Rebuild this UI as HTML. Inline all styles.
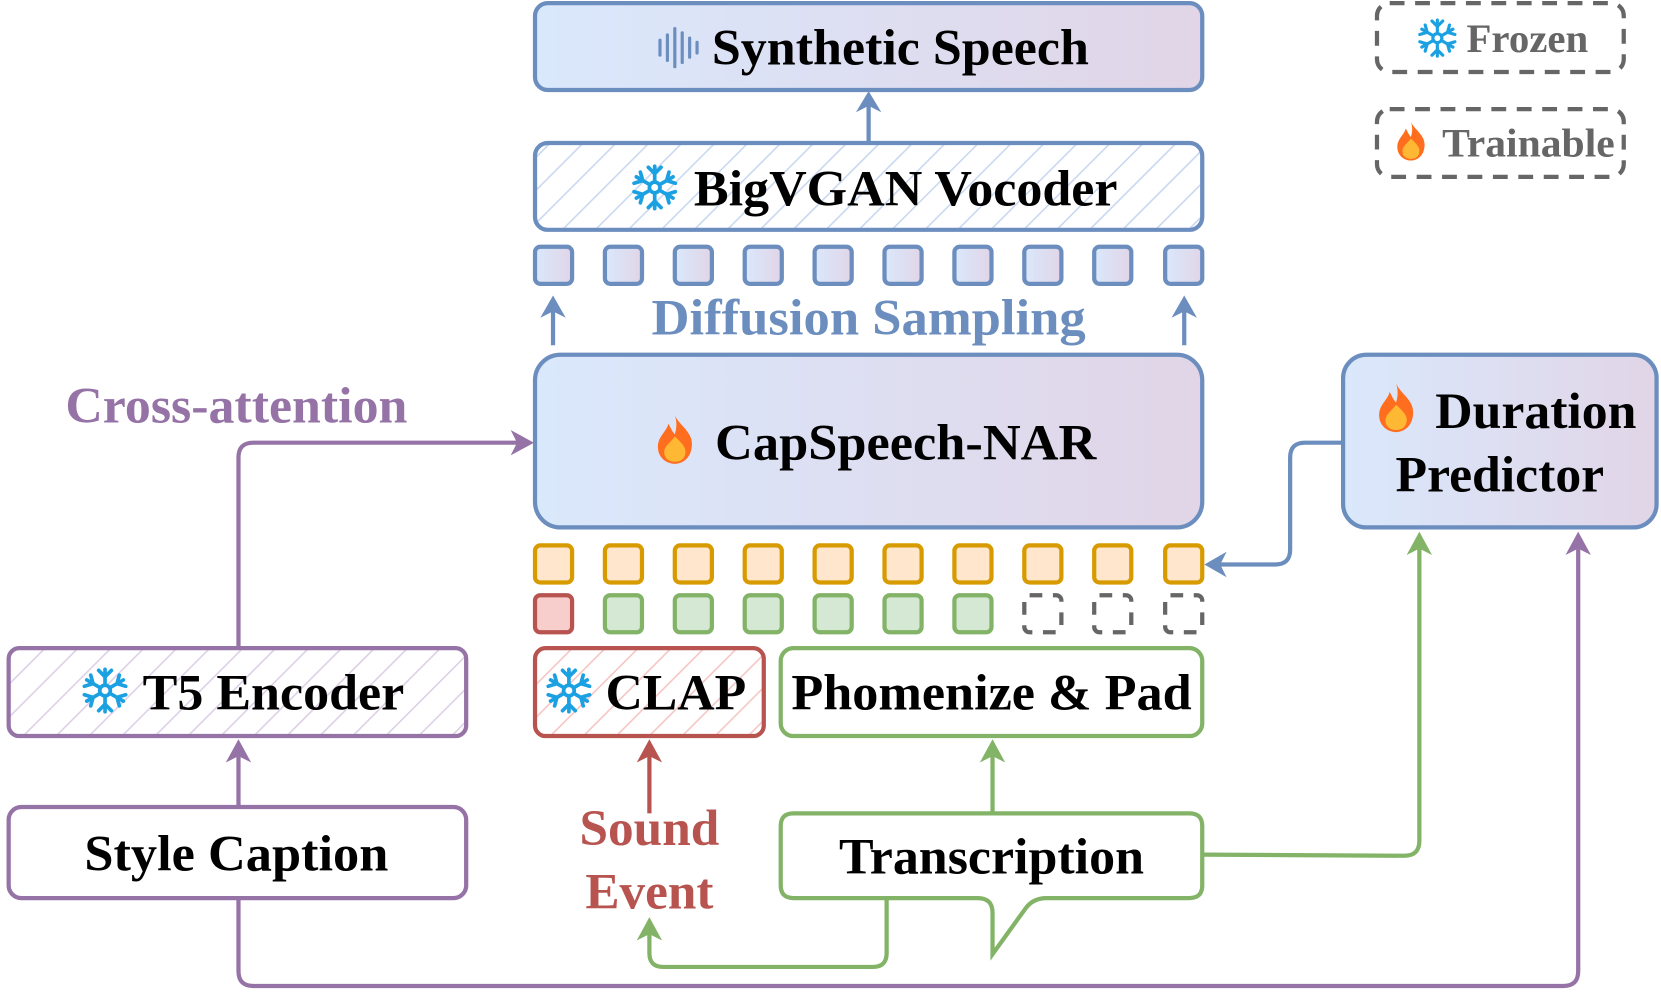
<!DOCTYPE html>
<html><head><meta charset="utf-8"><style>html,body{margin:0;padding:0;background:#fff}svg{display:block}</style></head>
<body>
<svg width="1661" height="1004" viewBox="0 0 1568 948" xmlns="http://www.w3.org/2000/svg" font-family="'Liberation Serif', serif" font-weight="bold">
<defs>
<linearGradient id="g" x1="0" y1="0" x2="1" y2="0"><stop offset="0" stop-color="#dae8fc"/><stop offset="1" stop-color="#e1d5e7"/></linearGradient>
<pattern id="hb" width="22" height="22" patternUnits="userSpaceOnUse" patternTransform="rotate(45)"><rect width="22" height="22" fill="#fff"/><line x1="0" y1="0" x2="0" y2="22" stroke="#c9d8f0" stroke-width="3"/></pattern>
<pattern id="hp" width="22" height="22" patternUnits="userSpaceOnUse" patternTransform="rotate(45)"><rect width="22" height="22" fill="#fff"/><line x1="0" y1="0" x2="0" y2="22" stroke="#ddd0e6" stroke-width="3"/></pattern>
<pattern id="hr" width="22" height="22" patternUnits="userSpaceOnUse" patternTransform="rotate(45)"><rect width="22" height="22" fill="#fff"/><line x1="0" y1="0" x2="0" y2="22" stroke="#f5c6c4" stroke-width="3"/></pattern>
<g id="snow" stroke="#1ba1e2" stroke-width="3.5" stroke-linecap="round" fill="none">
<line x1="0" y1="-20" x2="0" y2="20"/><line x1="-17.3" y1="-10" x2="17.3" y2="10"/><line x1="-17.3" y1="10" x2="17.3" y2="-10"/>
<circle r="5" fill="#fff"/>
<path d="M-6,-19 L0,-13 L6,-19 M-6,19 L0,13 L6,19 M-19.5,-4 L-11.3,-6.5 L-13.5,-14.5 M19.5,4 L11.3,6.5 L13.5,14.5 M-19.5,4 L-11.3,6.5 L-13.5,14.5 M19.5,-4 L11.3,-6.5 L13.5,-14.5"/>
</g>
<g id="fire"><path d="M0,-24 C4,-14 18,-8 16,6 C15,16 8,22 0,22 C-8,22 -16,16 -16,6 C-16,-4 -8,-8 -6,-16 C-3,-10 -2,-8 0,-6 C2,-12 2,-18 0,-24Z" fill="#ff6d1f"/><path d="M0,-4 C6,2 11,6 10,12 C9,18 5,20 0,20 C-5,20 -10,17 -10,11 C-10,5 -4,2 0,-4Z" fill="#ffb833"/></g>
</defs>

<!-- legend -->
<rect x="1300" y="3" width="233" height="65" rx="12" fill="none" stroke="#666" stroke-width="4" stroke-dasharray="14,10"/>
<use href="#snow" transform="translate(1357,36) scale(0.85)"/>
<text x="1442" y="49" font-size="38" fill="#666" text-anchor="middle" textLength="115" lengthAdjust="spacingAndGlyphs">Frozen</text>
<rect x="1300" y="103" width="233" height="64" rx="12" fill="none" stroke="#666" stroke-width="4" stroke-dasharray="14,10"/>
<use href="#fire" transform="translate(1332,134) scale(0.8)"/>
<text x="1443" y="148" font-size="38" fill="#666" text-anchor="middle" textLength="163" lengthAdjust="spacingAndGlyphs">Trainable</text>

<!-- Synthetic Speech -->
<rect x="505" y="3" width="630" height="82" rx="12" fill="url(#g)" stroke="#6c8ebf" stroke-width="4"/>
<g stroke="#6c8ebf" stroke-width="3" stroke-linecap="round"><line x1="623" y1="38" x2="623" y2="52"/><line x1="630" y1="33" x2="630" y2="57"/><line x1="637" y1="27" x2="637" y2="63"/><line x1="644" y1="31" x2="644" y2="59"/><line x1="651" y1="36" x2="651" y2="54"/><line x1="658" y1="40" x2="658" y2="50"/></g>
<text x="850" y="61" font-size="48" text-anchor="middle" fill="#000" textLength="356" lengthAdjust="spacingAndGlyphs">Synthetic Speech</text>

<line x1="820" y1="135" x2="820" y2="100" stroke="#6c8ebf" stroke-width="4"/>
<path d="M808,106 L820,86 L832,106 L820,100Z" fill="#6c8ebf"/>

<!-- BigVGAN -->
<rect x="505" y="135" width="630" height="82" rx="12" fill="url(#hb)" stroke="#6c8ebf" stroke-width="4"/>
<use href="#snow" transform="translate(618,177)"/>
<text x="855" y="194" font-size="48" text-anchor="middle" fill="#000" textLength="400" lengthAdjust="spacingAndGlyphs">BigVGAN Vocoder</text>

<g fill="url(#g)" stroke="#6c8ebf" stroke-width="4">
<rect x="505" y="233" width="35" height="35" rx="5"/><rect x="571" y="233" width="35" height="35" rx="5"/><rect x="637" y="233" width="35" height="35" rx="5"/><rect x="703" y="233" width="35" height="35" rx="5"/><rect x="769" y="233" width="35" height="35" rx="5"/><rect x="835" y="233" width="35" height="35" rx="5"/><rect x="901" y="233" width="35" height="35" rx="5"/><rect x="967" y="233" width="35" height="35" rx="5"/><rect x="1033" y="233" width="35" height="35" rx="5"/><rect x="1100" y="233" width="35" height="35" rx="5"/>
</g>
<line x1="522" y1="326" x2="522" y2="292" stroke="#6c8ebf" stroke-width="4"/><path d="M510,300 L522,279 L534,300 L522,294Z" fill="#6c8ebf"/>
<line x1="1118" y1="326" x2="1118" y2="292" stroke="#6c8ebf" stroke-width="4"/><path d="M1106,300 L1118,279 L1130,300 L1118,294Z" fill="#6c8ebf"/>
<text x="820" y="316" font-size="48" text-anchor="middle" fill="#6c8ebf" textLength="410" lengthAdjust="spacingAndGlyphs">Diffusion Sampling</text>

<!-- CapSpeech-NAR -->
<rect x="505" y="335" width="630" height="163" rx="24" fill="url(#g)" stroke="#6c8ebf" stroke-width="4"/>
<use href="#fire" transform="translate(637,416)"/>
<text x="855" y="434" font-size="48" text-anchor="middle" fill="#000" textLength="360" lengthAdjust="spacingAndGlyphs">CapSpeech-NAR</text>

<!-- Duration Predictor -->
<rect x="1268" y="335" width="296" height="163" rx="22" fill="url(#g)" stroke="#6c8ebf" stroke-width="4"/>
<use href="#fire" transform="translate(1318,386)"/>
<text x="1450" y="404" font-size="48" text-anchor="middle" fill="#000" textLength="190" lengthAdjust="spacingAndGlyphs">Duration</text>
<text x="1416" y="464" font-size="48" text-anchor="middle" fill="#000" textLength="197" lengthAdjust="spacingAndGlyphs">Predictor</text>
<path d="M1268,418 L1232,418 Q1218,418 1218,432 L1218,519 Q1218,533 1204,533 L1150,533" fill="none" stroke="#6c8ebf" stroke-width="4"/>
<path d="M1158,521 L1137,533 L1158,545 L1152,533Z" fill="#6c8ebf"/>

<g fill="#ffe6cc" stroke="#d79b00" stroke-width="4">
<rect x="505" y="515" width="35" height="35" rx="5"/><rect x="571" y="515" width="35" height="35" rx="5"/><rect x="637" y="515" width="35" height="35" rx="5"/><rect x="703" y="515" width="35" height="35" rx="5"/><rect x="769" y="515" width="35" height="35" rx="5"/><rect x="835" y="515" width="35" height="35" rx="5"/><rect x="901" y="515" width="35" height="35" rx="5"/><rect x="967" y="515" width="35" height="35" rx="5"/><rect x="1033" y="515" width="35" height="35" rx="5"/><rect x="1100" y="515" width="35" height="35" rx="5"/>
</g>
<rect x="505" y="562" width="35" height="35" rx="5" fill="#f8cecc" stroke="#b85450" stroke-width="4"/>
<g fill="#d5e8d4" stroke="#82b366" stroke-width="4">
<rect x="571" y="562" width="35" height="35" rx="5"/><rect x="637" y="562" width="35" height="35" rx="5"/><rect x="703" y="562" width="35" height="35" rx="5"/><rect x="769" y="562" width="35" height="35" rx="5"/><rect x="835" y="562" width="35" height="35" rx="5"/><rect x="901" y="562" width="35" height="35" rx="5"/>
</g>
<g fill="none" stroke="#666" stroke-width="4" stroke-dasharray="12,10">
<rect x="967" y="562" width="35" height="35" rx="5"/><rect x="1033" y="562" width="35" height="35" rx="5"/><rect x="1100" y="562" width="35" height="35" rx="5"/>
</g>

<!-- T5 -->
<rect x="8" y="612" width="432" height="83" rx="10" fill="url(#hp)" stroke="#9673a6" stroke-width="4"/>
<use href="#snow" transform="translate(99,652)"/>
<text x="258" y="670" font-size="48" text-anchor="middle" fill="#000" textLength="247" lengthAdjust="spacingAndGlyphs">T5 Encoder</text>
<!-- CLAP -->
<rect x="505" y="612" width="216" height="83" rx="10" fill="url(#hr)" stroke="#b85450" stroke-width="4"/>
<use href="#snow" transform="translate(537,652)"/>
<text x="638" y="670" font-size="48" text-anchor="middle" fill="#000" textLength="133" lengthAdjust="spacingAndGlyphs">CLAP</text>
<!-- Phomenize -->
<rect x="737" y="612" width="398" height="83" rx="12" fill="#fff" stroke="#82b366" stroke-width="4"/>
<text x="936" y="670" font-size="48" text-anchor="middle" fill="#000" textLength="378" lengthAdjust="spacingAndGlyphs">Phomenize &amp; Pad</text>

<!-- Style Caption -->
<rect x="8" y="762" width="432" height="86" rx="12" fill="#fff" stroke="#9673a6" stroke-width="4"/>
<text x="223" y="822" font-size="48" text-anchor="middle" fill="#000" textLength="287" lengthAdjust="spacingAndGlyphs">Style Caption</text>

<!-- Transcription callout -->
<path d="M749,768 L1123,768 Q1135,768 1135,780 L1135,836 Q1135,848 1123,848 L988,848 Q975,848 968,858 L937,901 L937,862 Q937,848 923,848 L749,848 Q737,848 737,836 L737,780 Q737,768 749,768Z" fill="#fff" stroke="#82b366" stroke-width="4"/>
<text x="936" y="825" font-size="48" text-anchor="middle" fill="#000" textLength="288" lengthAdjust="spacingAndGlyphs">Transcription</text>

<!-- Sound Event -->
<text x="613" y="798" font-size="48" text-anchor="middle" fill="#b85450" textLength="132" lengthAdjust="spacingAndGlyphs">Sound</text>
<text x="613" y="858" font-size="48" text-anchor="middle" fill="#b85450" textLength="121" lengthAdjust="spacingAndGlyphs">Event</text>
<line x1="613" y1="768" x2="613" y2="712" stroke="#b85450" stroke-width="4"/><path d="M601,720 L613,698 L625,720 L613,714Z" fill="#b85450"/>

<line x1="937" y1="768" x2="937" y2="712" stroke="#82b366" stroke-width="4"/><path d="M925,720 L937,698 L949,720 L937,714Z" fill="#82b366"/>
<path d="M1135,807 L1326,808 Q1340,808 1340,794 L1340,518" fill="none" stroke="#82b366" stroke-width="4"/>
<path d="M1328,524 L1340,502 L1352,524 L1340,518Z" fill="#82b366"/>
<path d="M837,848 L837,900 Q837,913 824,913 L626,913 Q613,913 613,900 L613,880" fill="none" stroke="#82b366" stroke-width="4"/>
<path d="M601,888 L613,866 L625,888 L613,882Z" fill="#82b366"/>

<!-- purple -->
<path d="M225,848 L225,917 Q225,931 239,931 L1476,931 Q1490,931 1490,917 L1490,518" fill="none" stroke="#9673a6" stroke-width="4"/>
<path d="M1478,524 L1490,502 L1502,524 L1490,518Z" fill="#9673a6"/>
<line x1="225" y1="762" x2="225" y2="712" stroke="#9673a6" stroke-width="4"/><path d="M213,720 L225,698 L237,720 L225,714Z" fill="#9673a6"/>
<path d="M225,612 L225,432 Q225,418 239,418 L490,418" fill="none" stroke="#9673a6" stroke-width="4"/>
<path d="M482,406 L504,418 L482,430 L488,418Z" fill="#9673a6"/>
<text x="223" y="399" font-size="48" text-anchor="middle" fill="#9673a6" textLength="323" lengthAdjust="spacingAndGlyphs">Cross-attention</text>
</svg>
</body></html>
